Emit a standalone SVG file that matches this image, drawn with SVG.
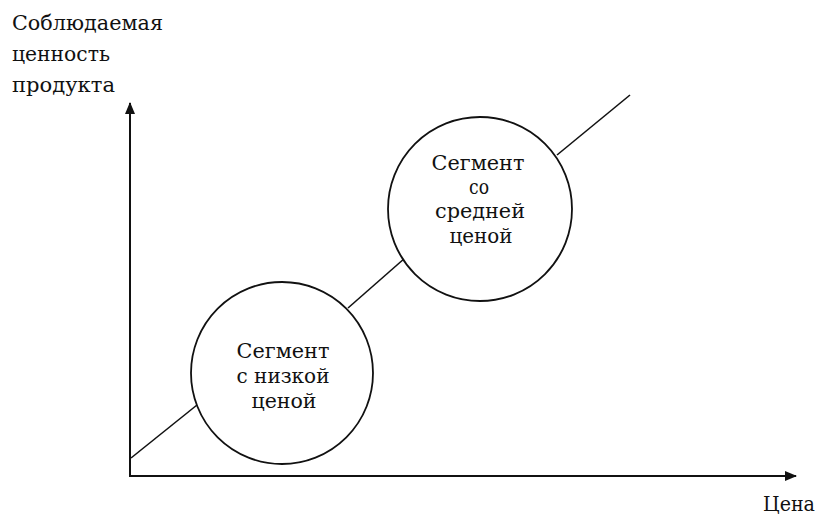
<svg xmlns="http://www.w3.org/2000/svg" width="820" height="518" viewBox="0 0 820 518">
<defs>
<style>
text{font-family:"DejaVu Serif","Liberation Serif",serif;font-size:21px;fill:#111}
.c{text-anchor:middle}
.ax{stroke:#111;stroke-width:2;fill:none}
.ln{stroke:#111;stroke-width:1.6;fill:none}
.node circle{fill:#fff;stroke:#111;stroke-width:1.8}
</style>
<marker id="ah" viewBox="0 0 12 10" refX="11" refY="5" markerWidth="12" markerHeight="10" markerUnits="userSpaceOnUse" orient="auto">
<path d="M0,0 L12,5 L0,10 Z" fill="#111"/>
</marker>
</defs>
<rect width="820" height="518" fill="#fff"/>
<g id="axes">
<line class="ax" x1="130" y1="477" x2="130" y2="103" marker-end="url(#ah)"/>
<line class="ax" x1="129" y1="476" x2="796" y2="476" marker-end="url(#ah)"/>
<text x="12" y="30" textLength="151" lengthAdjust="spacingAndGlyphs">Соблюдаемая</text>
<text x="12" y="61" textLength="98" lengthAdjust="spacingAndGlyphs">ценность</text>
<text x="12" y="92" textLength="103" lengthAdjust="spacingAndGlyphs">продукта</text>
<text x="763" y="511" textLength="52" lengthAdjust="spacingAndGlyphs">Цена</text>
</g>
<g id="connectors">
<line class="ln" x1="131" y1="458" x2="197" y2="405"/>
<line class="ln" x1="348" y1="308" x2="405" y2="258"/>
<line class="ln" x1="557" y1="155" x2="630" y2="95"/>
</g>
<g id="low" class="node">
<circle cx="282" cy="373" r="91"/>
<text class="c" x="283" y="358" textLength="93" lengthAdjust="spacingAndGlyphs">Сегмент</text>
<text class="c" x="283" y="383" textLength="93" lengthAdjust="spacingAndGlyphs">с низкой</text>
<text class="c" x="284" y="408" textLength="65" lengthAdjust="spacingAndGlyphs">ценой</text>
</g>
<g id="mid" class="node">
<circle cx="480" cy="209" r="92"/>
<text class="c" x="478" y="170" textLength="93" lengthAdjust="spacingAndGlyphs">Сегмент</text>
<text class="c" x="479" y="194" textLength="20" lengthAdjust="spacingAndGlyphs">со</text>
<text class="c" x="480" y="218" textLength="90" lengthAdjust="spacingAndGlyphs">средней</text>
<text class="c" x="481" y="243" textLength="63" lengthAdjust="spacingAndGlyphs">ценой</text>
</g>
</svg>
